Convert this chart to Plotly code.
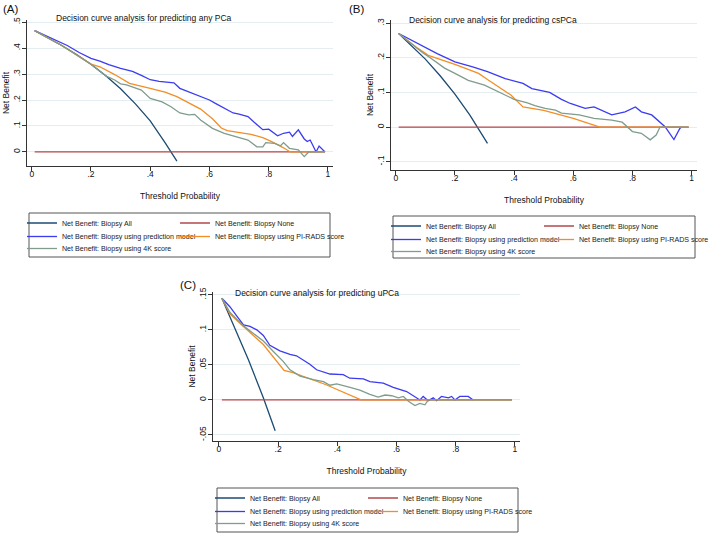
import plotly.graph_objects as go

W, H = 709, 534

# ---- data ---------------------------------------------------------------
names = [
    "Net Benefit: Biopsy All",
    "Net Benefit: Biopsy None",
    "Net Benefit: Biopsy using prediction model",
    "Net Benefit: Biopsy using PI-RADS score",
    "Net Benefit: Biopsy using 4K score",
]
colors = ["#1b4b73", "#b3474c", "#3b3bf2", "#f28e25", "#7f9c8d"]

# (A) any PCa
a_all_t = [0.01, 0.05, 0.10, 0.15, 0.20, 0.25, 0.30, 0.35, 0.40, 0.45, 0.49]
a_all_nb = [0.467, 0.443, 0.411, 0.376, 0.338, 0.293, 0.243, 0.185, 0.120, 0.036, -0.035]
a_none_t = [0.01, 0.99]
a_none_nb = [0.0, 0.0]
a_mod_t = [0.01, 0.06, 0.12, 0.16, 0.20, 0.23, 0.26, 0.30, 0.34, 0.37, 0.40, 0.43, 0.46, 0.48,
           0.50, 0.54, 0.57, 0.60, 0.62, 0.65, 0.68, 0.70, 0.73, 0.75, 0.78, 0.80, 0.83, 0.85,
           0.87, 0.88, 0.90, 0.92, 0.93, 0.94, 0.96, 0.97, 0.99]
a_mod_nb = [0.467, 0.440, 0.410, 0.383, 0.360, 0.350, 0.336, 0.322, 0.310, 0.295, 0.278, 0.272,
            0.270, 0.266, 0.245, 0.228, 0.213, 0.200, 0.187, 0.170, 0.150, 0.146, 0.136, 0.115,
            0.086, 0.088, 0.062, 0.072, 0.076, 0.060, 0.085, 0.050, 0.040, 0.046, 0.000, 0.023, 0.000]
a_pir_t = [0.01, 0.10, 0.20, 0.23, 0.28, 0.33, 0.40, 0.45, 0.49, 0.53, 0.57, 0.61, 0.64, 0.66,
           0.70, 0.74, 0.78, 0.81, 0.85, 0.873, 0.99]
a_pir_nb = [0.467, 0.411, 0.338, 0.328, 0.298, 0.264, 0.245, 0.230, 0.213, 0.190, 0.165, 0.128,
            0.092, 0.082, 0.076, 0.068, 0.055, 0.040, 0.016, 0.0, 0.0]
a_4k_t = [0.01, 0.10, 0.20, 0.25, 0.28, 0.30, 0.32, 0.34, 0.37, 0.40, 0.44, 0.47, 0.50, 0.53,
          0.55, 0.57, 0.61, 0.65, 0.69, 0.73, 0.76, 0.78, 0.79, 0.82, 0.84, 0.85, 0.87, 0.90,
          0.92, 0.935, 0.99]
a_4k_nb = [0.467, 0.411, 0.338, 0.293, 0.277, 0.262, 0.258, 0.251, 0.238, 0.206, 0.193, 0.174,
           0.150, 0.143, 0.145, 0.123, 0.091, 0.072, 0.059, 0.046, 0.020, 0.020, 0.036, 0.033,
           0.024, 0.036, 0.014, 0.008, -0.018, 0.0, 0.0]

# (B) csPCa
b_all_t = [0.01, 0.05, 0.10, 0.15, 0.20, 0.25, 0.28, 0.31]
b_all_nb = [0.270, 0.238, 0.196, 0.148, 0.095, 0.035, -0.005, -0.047]
b_none_t = [0.01, 0.99]
b_none_nb = [0.0, 0.0]
b_mod_t = [0.01, 0.05, 0.09, 0.14, 0.20, 0.26, 0.31, 0.37, 0.43, 0.46, 0.52, 0.56, 0.59, 0.64,
           0.67, 0.71, 0.73, 0.775, 0.81, 0.83, 0.865, 0.91, 0.94, 0.96, 0.965]
b_mod_nb = [0.270, 0.252, 0.236, 0.212, 0.188, 0.174, 0.160, 0.140, 0.126, 0.111, 0.100, 0.080,
            0.068, 0.054, 0.058, 0.044, 0.035, 0.044, 0.058, 0.044, 0.035, 0.001, -0.036, -0.004, 0.0]
b_pir_t = [0.01, 0.075, 0.11, 0.20, 0.28, 0.31, 0.39, 0.43, 0.50, 0.60, 0.69, 0.99]
b_pir_nb = [0.270, 0.227, 0.207, 0.181, 0.155, 0.137, 0.092, 0.058, 0.048, 0.025, 0.0, 0.0]
b_4k_t = [0.01, 0.09, 0.12, 0.165, 0.20, 0.245, 0.30, 0.335, 0.37, 0.40, 0.445, 0.47, 0.505,
          0.54, 0.56, 0.62, 0.67, 0.73, 0.765, 0.785, 0.80, 0.83, 0.86, 0.88, 0.893, 0.99]
b_4k_nb = [0.270, 0.215, 0.198, 0.170, 0.155, 0.135, 0.121, 0.107, 0.092, 0.080, 0.070, 0.062,
           0.054, 0.049, 0.040, 0.035, 0.025, 0.020, 0.014, 0.0, -0.013, -0.018, -0.037, -0.023,
           0.0, 0.0]

# (C) uPCa
c_all_t = [0.01, 0.05, 0.10, 0.15, 0.19]
c_all_nb = [0.145, 0.107, 0.057, 0.003, -0.044]
c_none_t = [0.01, 0.99]
c_none_nb = [0.0, 0.0]
c_mod_t = [0.01, 0.037, 0.06, 0.083, 0.105, 0.128, 0.15, 0.172, 0.206, 0.24, 0.262, 0.285,
           0.307, 0.33, 0.375, 0.42, 0.442, 0.488, 0.51, 0.555, 0.589, 0.634, 0.662, 0.679,
           0.69, 0.707, 0.724, 0.735, 0.752, 0.775, 0.786, 0.797, 0.814, 0.842, 0.859]
c_mod_nb = [0.145, 0.133, 0.120, 0.107, 0.105, 0.100, 0.092, 0.078, 0.070, 0.065, 0.063, 0.057,
            0.051, 0.043, 0.037, 0.036, 0.031, 0.030, 0.026, 0.024, 0.018, 0.012, 0.005, 0.0,
            0.005, -0.001, 0.003, -0.001, 0.005, 0.003, 0.005, 0.0, 0.005, 0.005, 0.0]
c_pir_t = [0.01, 0.037, 0.082, 0.15, 0.22, 0.25, 0.36, 0.48, 0.99]
c_pir_nb = [0.145, 0.123, 0.105, 0.079, 0.042, 0.039, 0.022, 0.0, 0.0]
c_4k_t = [0.01, 0.037, 0.082, 0.116, 0.15, 0.184, 0.217, 0.24, 0.274, 0.319, 0.353, 0.375,
          0.398, 0.443, 0.476, 0.51, 0.538, 0.561, 0.584, 0.606, 0.623, 0.64, 0.662, 0.679,
          0.696, 0.707, 0.99]
c_4k_nb = [0.145, 0.125, 0.106, 0.095, 0.084, 0.069, 0.055, 0.043, 0.034, 0.029, 0.026, 0.021,
           0.023, 0.018, 0.014, 0.008, 0.004, 0.007, 0.006, 0.003, 0.005, -0.002, -0.008,
           -0.005, -0.007, 0.0, 0.0]

x_ticks = [0, 0.2, 0.4, 0.6, 0.8, 1]
x_ticktext = ["0", ".2", ".4", ".6", ".8", "1"]
a_yticks = [0, 0.1, 0.2, 0.3, 0.4, 0.5]
a_yticktext = ["0", ".1", ".2", ".3", ".4", ".5"]
b_yticks = [-0.1, 0, 0.1, 0.2, 0.3]
b_yticktext = ["-.1", "0", ".1", ".2", ".3"]
c_yticks = [-0.05, 0, 0.05, 0.1, 0.15]
c_yticktext = ["-.05", "0", ".05", ".1", ".15"]

# ---- panel layout (pixel boxes) --------------------------------------------
panels = [
    dict(label="(A)", title="Decision curve analysis for predicting any PCa",
         series=[(a_all_t, a_all_nb), (a_none_t, a_none_nb), (a_mod_t, a_mod_nb),
                 (a_pir_t, a_pir_nb), (a_4k_t, a_4k_nb)],
         box=(27, 20, 333, 166), xr=[-0.016, 1.017], yr=[-0.054, 0.508],
         yt=a_yticks, ytt=a_yticktext, lab=(1, 9), tit=(54, 18), leg=(29, 213, 330, 257)),
    dict(label="(B)", title="Decision curve analysis for predicting csPCa",
         series=[(b_all_t, b_all_nb), (b_none_t, b_none_nb), (b_mod_t, b_mod_nb),
                 (b_pir_t, b_pir_nb), (b_4k_t, b_4k_nb)],
         box=(391, 20, 697, 170), xr=[-0.016, 1.018], yr=[-0.124, 0.309],
         yt=b_yticks, ytt=b_yticktext, lab=(347, 9), tit=(407, 20), leg=(393, 216, 695, 258)),
    dict(label="(C)", title="Decision curve analysis for predicting uPCa",
         series=[(c_all_t, c_all_nb), (c_none_t, c_none_nb), (c_mod_t, c_mod_nb),
                 (c_pir_t, c_pir_nb), (c_4k_t, c_4k_nb)],
         box=(213, 292, 520, 441), xr=[-0.02, 1.017], yr=[-0.0586, 0.154],
         yt=c_yticks, ytt=c_yticktext, lab=(178, 285), tit=(233, 293), leg=(217, 488, 518, 532)),
]

# legend slots: (column, row) of each series inside the legend frame
slots = [(0, 0), (1, 0), (0, 1), (1, 1), (0, 2)]
row_y = [11.5, 25, 37]

font = "Liberation Sans, Arial, sans-serif"
fig = go.Figure()
layout = {}
annotations = []
shapes = []
n_leg = 0

for i, p in enumerate(panels):
    sfx = "" if i == 0 else str(i + 1)
    x0, y0, x1, y1 = p["box"]
    for k, (t, nb) in enumerate(p["series"]):
        n_leg += 1
        leg_id = "legend" if n_leg == 1 else f"legend{n_leg}"
        fig.add_trace(go.Scatter(
            x=t, y=nb, mode="lines", name=names[k],
            line=dict(color=colors[k], width=1.3),
            xaxis="x" + sfx, yaxis="y" + sfx, legend=leg_id,
        ))
        col, row = slots[k]
        lx, ly, _, _ = p["leg"]
        layout[leg_id] = dict(
            x=(lx - 7 + col * 153) / W, y=1 - (ly + row_y[row] - 16) / H,
            xanchor="left", yanchor="top", bgcolor="rgba(0,0,0,0)", borderwidth=0,
            font=dict(family=font, size=7.1, color="#222"), itemwidth=30,
        )
    layout["xaxis" + sfx] = dict(
        domain=[x0 / W, x1 / W], anchor="y" + sfx, range=p["xr"],
        tickvals=x_ticks, ticktext=x_ticktext, ticks="outside", ticklen=4,
        ticklabelstandoff=-4,
        tickcolor="#333", showline=True, linecolor="#333", linewidth=1,
        showgrid=False, zeroline=False, tickfont=dict(family=font, size=8.5, color="#111"),
        title=dict(text="Threshold Probability", font=dict(family=font, size=8.5, color="#111"),
                   standoff=14),
    )
    layout["yaxis" + sfx] = dict(
        domain=[1 - y1 / H, 1 - y0 / H], anchor="x" + sfx, range=p["yr"],
        tickvals=p["yt"], ticktext=p["ytt"], ticks="outside", ticklen=4, tickangle=-90,
        ticklabelstandoff=-1,
        tickcolor="#333", showline=True, linecolor="#333", linewidth=1,
        showgrid=True, gridcolor="#e4eef0", gridwidth=1, zeroline=False,
        tickfont=dict(family=font, size=8.5, color="#111"),
        title=dict(text="Net Benefit", font=dict(family=font, size=8.5, color="#111"), standoff=0),
    )
    annotations.append(dict(
        text=p["label"], x=p["lab"][0] / W, y=1 - p["lab"][1] / H, xref="paper", yref="paper",
        xanchor="left", yanchor="middle", showarrow=False,
        font=dict(family=font, size=11.5, color="#111"),
    ))
    annotations.append(dict(
        text=p["title"], x=p["tit"][0] / W, y=1 - p["tit"][1] / H, xref="paper", yref="paper",
        xanchor="left", yanchor="middle", showarrow=False,
        font=dict(family=font, size=8.5, color="#111"),
    ))
    lx0, ly0, lx1, ly1 = p["leg"]
    shapes.append(dict(
        type="rect", xref="paper", yref="paper", x0=lx0 / W, x1=lx1 / W,
        y0=1 - ly1 / H, y1=1 - ly0 / H, line=dict(color="#555", width=1),
    ))

fig.update_layout(
    width=W, height=H, margin=dict(l=0, r=0, t=0, b=0, autoexpand=False),
    paper_bgcolor="white", plot_bgcolor="white", showlegend=True,
    annotations=annotations, shapes=shapes, **layout,
)

# drop the default page margin / scrollbars so the figure fills the window exactly
page_fix = ("document.body.style.margin='0';"
            "document.body.style.overflow='hidden';"
            "document.documentElement.style.overflow='hidden';")
fig.write_html("out.html", config={"displayModeBar": False}, post_script=page_fix)
